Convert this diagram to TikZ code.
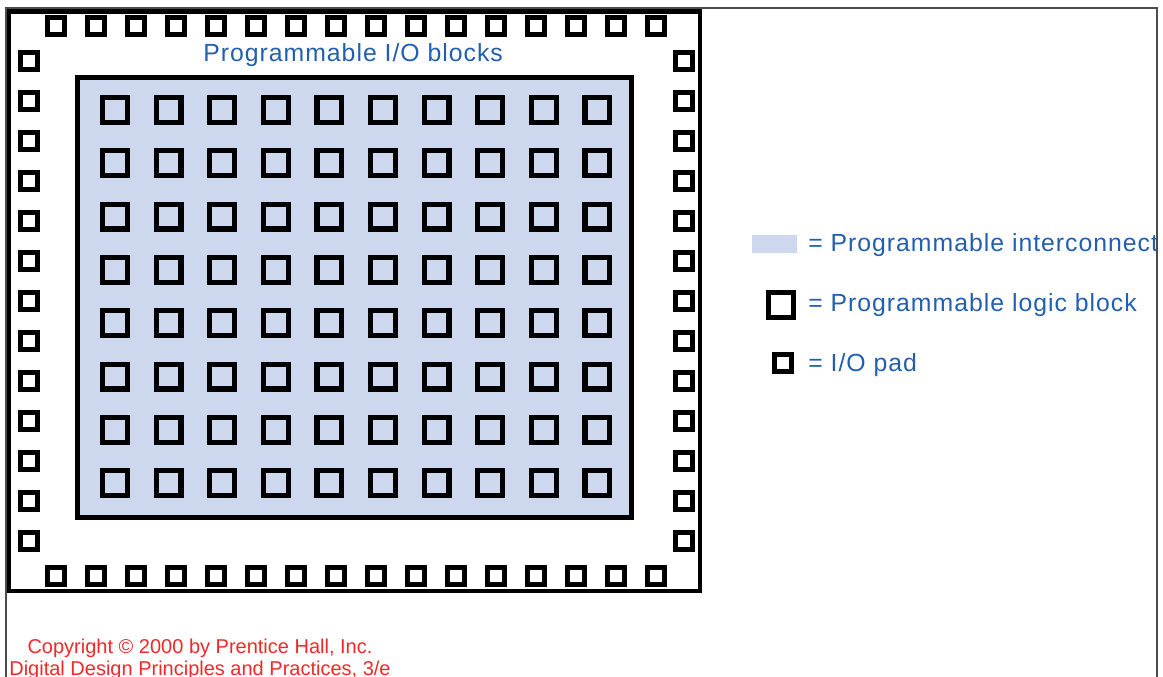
\documentclass[tikz,border=0pt]{standalone}
\usepackage{fontspec}
\setmainfont{Liberation Sans}
\newfontfamily\lblfont{Liberation Sans}[LetterSpace=4]
\definecolor{lblblue}{RGB}{35,95,175}
\definecolor{icfill}{RGB}{205,215,238}
\definecolor{cpred}{RGB}{240,40,40}
\tikzset{
  iopad/.style={draw,line width=3.7pt,minimum size=13pt,inner sep=0pt},
  logicblk/.style={draw,line width=3.9pt,minimum size=18.6pt,inner sep=0pt},
  chipedge/.style={line width=3.5pt},
  fabric/.style={fill=icfill,draw=black,line width=3.7pt},
  lbl/.style={text=lblblue,font=\lblfont\fontsize{18.6}{20}\selectfont,inner sep=0pt,anchor=base west},
  cptxt/.style={text=cpred,font=\fontsize{15}{17}\selectfont,inner sep=0pt,anchor=base}
}

\begin{document}
\begin{tikzpicture}[x=0.75pt,y=-0.75pt]
    \useasboundingbox (0,0) rectangle (1163,677);
    \draw[chipedge] (8.5,11.5) rectangle (700,591);
    \draw[fabric] (77.5,77.5) rectangle (631.5,517.5);
    \foreach \i in {0,...,15} {
      \node[iopad] (tpad\i) at ({56+40*\i},26) {};
      \node[iopad] (bpad\i) at ({56+40*\i},576) {};
    }
    \foreach \j in {0,...,12} {
      \node[iopad] (lpad\j) at (29,{61+40*\j}) {};
      \node[iopad] (rpad\j) at (684,{61+40*\j}) {};
    }
    \foreach \i in {0,...,9}
      \foreach \j in {0,...,7}
        \node[logicblk] (blk\i\j) at ({115+53.6*\i},{110+53.3*\j}) {};
    \node[lbl] (title) at (203,62) {Programmable I/O blocks};
    \fill[icfill] (752,235) rectangle (797,253);
    \node[logicblk] (keyblk) at (781,305) {};
    \node[iopad] (keypad) at (783,363) {};
    \node[lbl] (keyictxt) at (808,252) {= Programmable interconnect};
    \node[lbl] (keyblktxt) at (808,311) {= Programmable logic block};
    \node[lbl] (keypadtxt) at (808,371) {= I/O pad};
    \node[cptxt] (copy1) at (200,653) {Copyright © 2000 by Prentice Hall, Inc.};
    \node[cptxt] (copy2) at (200,675) {Digital Design Principles and Practices, 3/e};
    \draw[gray!60!black,line width=0.9pt] (6,677) -- (6,8) -- (1157,8) -- (1157,677);
  \end{tikzpicture}
\end{document}
